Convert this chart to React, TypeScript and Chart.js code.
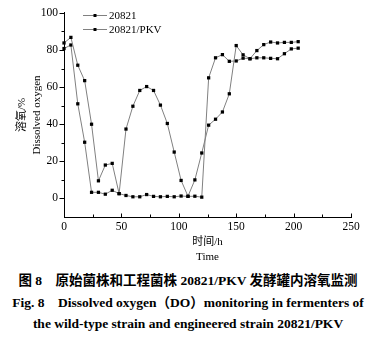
import React, { useEffect, useRef } from "react";
import { Chart, registerables } from "chart.js";

Chart.register(...registerables);

// ---- data ----
const TIME_H = [0, 6, 12, 18, 24, 30, 36, 42, 48, 54, 60, 66, 72, 78, 84, 90, 96, 102, 108, 114, 120, 126, 132, 138, 144, 150, 156, 162, 168, 174, 180, 186, 192, 198, 204];
const DO_20821 = [83.8, 86.8, 71.8, 63.5, 40, 9.5, 18, 18.9, 2.6, 37.4, 49.7, 58.2, 60.3, 58.2, 50.3, 40.4, 25, 9.7, 1.2, 10, 24.5, 39.5, 42.7, 46.6, 56.4, 82.4, 77.4, 75.3, 79.7, 82.9, 84.3, 83.8, 84.1, 84.1, 84.5];
const DO_PKV = [80.8, 82.7, 51, 30.3, 3.3, 3.3, 2.3, 4.4, 2.6, 1.6, 0.9, 0.9, 2.1, 1.1, 0.9, 1.1, 0.9, 1.3, 1.1, 1.2, 0.7, 65, 75.8, 77.5, 73.9, 74.1, 75.6, 75.3, 75.8, 75.8, 75.5, 75.3, 78, 80.6, 81];
const SERIES_LABELS = ["20821", "20821/PKV"];

const X_MAJOR = [0, 50, 100, 150, 200, 250];
const X_MINOR = [25, 75, 125, 175, 225];
const Y_MAJOR = [0, 20, 40, 60, 80, 100];
const Y_MINOR = [10, 30, 50, 70, 90];

const X_TITLE = ["时间/h", "Time"];
const Y_TITLE = ["溶氧/%", "Dissolved oxygen"];
const CAPTION = [
  "图 8\u3000原始菌株和工程菌株 20821/PKV 发酵罐内溶氧监测",
  "Fig. 8\u2003Dissolved oxygen（DO）monitoring in fermenters of",
  "the wild-type strain and engineered strain 20821/PKV",
];

const FONT = "'Liberation Serif', 'Noto Sans CJK SC', serif";
const LINE_COLOR = "#808080";

const decorPlugin = {
  id: "decor",
  afterDraw(chart: any) {
    const ctx = chart.ctx as CanvasRenderingContext2D;
    const xs = chart.scales.x;
    const ys = chart.scales.y;
    const area = chart.chartArea;
    ctx.save();
    ctx.strokeStyle = "#000";
    ctx.lineWidth = 1;
    const left = Math.round(area.left) + 0.5;
    const bottom = Math.round(area.bottom) + 0.5;
    const ytick = (v: number, len: number) => {
      const y = Math.round(ys.getPixelForValue(v)) + 0.5;
      ctx.beginPath();
      ctx.moveTo(left - len, y);
      ctx.lineTo(left, y);
      ctx.stroke();
    };
    const xtick = (v: number, len: number) => {
      const x = Math.round(xs.getPixelForValue(v)) + 0.5;
      ctx.beginPath();
      ctx.moveTo(x, bottom);
      ctx.lineTo(x, bottom - len);
      ctx.stroke();
    };
    Y_MAJOR.forEach((v) => ytick(v, 5));
    Y_MINOR.forEach((v) => ytick(v, 3));
    X_MAJOR.forEach((v) => xtick(v, 4));
    X_MINOR.forEach((v) => xtick(v, 3));

    // legend
    const lx0 = 83;
    const lx1 = 107;
    chart.data.datasets.forEach((ds: any, i: number) => {
      const y = 15.5 + i * 14;
      ctx.strokeStyle = LINE_COLOR;
      ctx.beginPath();
      ctx.moveTo(lx0, y);
      ctx.lineTo(lx1, y);
      ctx.stroke();
      ctx.fillStyle = "#000";
      ctx.fillRect(95 - 1.5, y - 1.5, 3, 3);
      ctx.font = `11px ${FONT}`;
      ctx.textBaseline = "middle";
      ctx.textAlign = "left";
      ctx.fillText(ds.label, 109, y + 0.5);
    });
    ctx.restore();
  },
};

export default function App() {
  const ref = useRef<HTMLCanvasElement | null>(null);
  useEffect(() => {
    document.body.style.margin = "0";
    if (!ref.current) return;
    const mk = (vals: number[]) => TIME_H.map((t, i) => ({ x: t, y: vals[i] }));
    const dsBase = {
      borderColor: LINE_COLOR,
      borderWidth: 1,
      pointStyle: "rect",
      pointRadius: 2.3,
      pointBackgroundColor: "#000",
      pointBorderWidth: 0,
      tension: 0,
      clip: false,
      showLine: true,
    };
    const chart = new Chart(ref.current, {
      type: "scatter",
      data: {
        datasets: [
          { ...dsBase, label: SERIES_LABELS[0], data: mk(DO_20821) },
          { ...dsBase, label: SERIES_LABELS[1], data: mk(DO_PKV) },
        ],
      } as any,
      options: {
        animation: false,
        responsive: false,
        devicePixelRatio: 1,
        layout: { padding: { left: 0, right: 25, top: 10, bottom: 0 } },
        plugins: { legend: { display: false }, tooltip: { enabled: false } },
        scales: {
          x: {
            type: "linear",
            min: 0,
            max: 250,
            afterBuildTicks: (s: any) => {
              s.ticks = X_MAJOR.map((v) => ({ value: v }));
            },
            afterFit: (s: any) => {
              s.height = 48;
            },
            grid: { display: false, drawTicks: false },
            border: { display: true, color: "#000", width: 1 },
            ticks: { color: "#000", font: { family: FONT, size: 11.5 }, padding: 3.5, maxRotation: 0 },
            title: {
              display: true,
              text: X_TITLE,
              color: "#000",
              font: { family: FONT, size: 11, lineHeight: 1.36 },
              padding: { top: 0, bottom: 0.5 },
            },
          },
          y: {
            type: "linear",
            min: -10,
            max: 100,
            afterBuildTicks: (s: any) => {
              s.ticks = Y_MAJOR.map((v) => ({ value: v }));
            },
            afterFit: (s: any) => {
              s.width = 64;
            },
            grid: { display: false, drawTicks: false },
            border: { display: true, color: "#000", width: 1 },
            ticks: { color: "#000", font: { family: FONT, size: 11.5 }, padding: 6 },
            title: {
              display: true,
              text: Y_TITLE,
              color: "#000",
              font: { family: FONT, size: 11, lineHeight: 1.36 },
              padding: { top: 14.5, bottom: 0 },
            },
          },
        },
      } as any,
      plugins: [decorPlugin],
    });
    return () => chart.destroy();
  }, []);

  return (
    <div style={{ width: 376, height: 340, background: "#fff", overflow: "hidden" }}>
      <canvas ref={ref} width={376} height={265} style={{ display: "block" }} />
      <div
        style={{
          marginTop: 5,
          fontFamily: FONT,
          fontWeight: "bold",
          fontSize: 13.5,
          lineHeight: "21.5px",
          textAlign: "center",
          color: "#000",
          whiteSpace: "pre",
        }}
      >
        {CAPTION.map((line, i) => (
          <div key={i}>{line}</div>
        ))}
      </div>
    </div>
  );
}
